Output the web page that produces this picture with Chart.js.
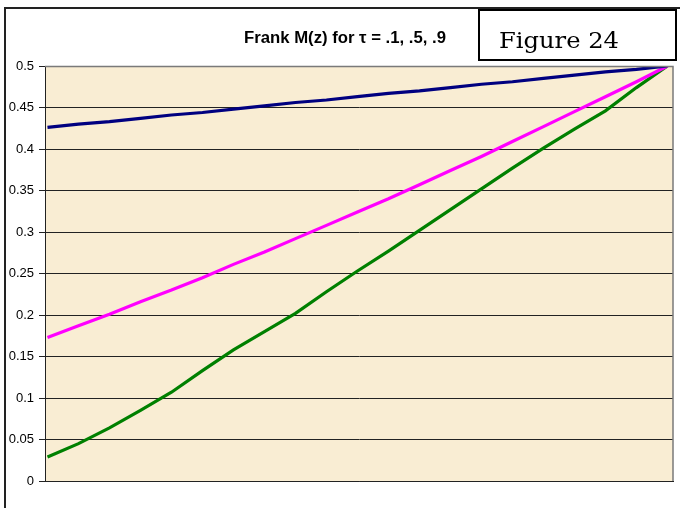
<!DOCTYPE html>
<html>
<head>
<meta charset="utf-8">
<script src="https://cdn.jsdelivr.net/npm/chart.js@4/dist/chart.umd.min.js"></script>
<style>
html,body{margin:0;padding:0;background:#fff;}
canvas{display:block;}
</style>
</head>
<body>
<canvas id="c" width="680" height="508"></canvas>
<script>
// ---- data ----
const zValues = [0,0.05,0.1,0.15,0.2,0.25,0.3,0.35,0.4,0.45,0.5,0.55,0.6,0.65,0.7,0.75,0.8,0.85,0.9,0.95,1];
const seriesTau01 = [0.426,0.430,0.433,0.437,0.441,0.444,0.448,0.452,0.456,0.459,0.463,0.467,0.470,0.474,0.478,0.481,0.485,0.489,0.493,0.496,0.500];
const seriesTau05 = [0.173,0.187,0.201,0.216,0.230,0.245,0.261,0.276,0.292,0.308,0.324,0.340,0.357,0.374,0.391,0.409,0.427,0.445,0.463,0.481,0.500];
const seriesTau09 = [0.029,0.045,0.064,0.085,0.107,0.133,0.158,0.180,0.202,0.228,0.253,0.277,0.302,0.327,0.352,0.377,0.401,0.424,0.446,0.474,0.500];
const seriesNames = ['tau = .1','tau = .5','tau = .9'];
const yTickValues = [0,0.05,0.1,0.15,0.2,0.25,0.3,0.35,0.4,0.45,0.5];
const yTickLabels = ['0','0.05','0.1','0.15','0.2','0.25','0.3','0.35','0.4','0.45','0.5'];
const titleText = 'Frank M(z) for \u03C4 = .1, .5, .9';
const figureLabel = 'Figure 24';

function pts(ys){ return zValues.map((z,i)=>({x:z, y:ys[i]})); }

const decor = {
  id:'decor',
  beforeDraw(chart){
    const {ctx, chartArea:a} = chart;
    ctx.save();
    ctx.fillStyle = '#ffffff';
    ctx.fillRect(0,0,chart.width,chart.height);
    // outer chart border (extends past the picture)
    ctx.strokeStyle = '#222';
    ctx.lineWidth = 2;
    ctx.strokeRect(5, 8, 800, 600);
    // plot background
    ctx.fillStyle = '#F9EDD3';
    ctx.fillRect(a.left, a.top, a.right - a.left, a.bottom - a.top);
    ctx.restore();
  },
  afterDraw(chart){
    const {ctx, chartArea:a} = chart;
    ctx.save();
    // plot border top/right in grey
    ctx.strokeStyle = '#7a7a7a';
    ctx.lineWidth = 1.5;
    ctx.beginPath();
    ctx.moveTo(a.left, a.top + 0.5);
    ctx.lineTo(a.right, a.top + 0.5);
    ctx.lineTo(a.right, a.bottom);
    ctx.stroke();
    // title
    ctx.fillStyle = '#000';
    ctx.font = 'bold 16px "Liberation Sans", Arial, sans-serif';
    let w = ctx.measureText(titleText).width;
    let sx = 202 / w;
    ctx.save();
    ctx.translate(244, 43);
    ctx.scale(sx, 1);
    ctx.textBaseline = 'alphabetic';
    ctx.fillText(titleText, 0, 0);
    ctx.restore();
    // figure box
    ctx.fillStyle = '#fff';
    ctx.fillRect(478, 9, 199, 52);
    ctx.strokeStyle = '#000';
    ctx.lineWidth = 2;
    ctx.strokeRect(479, 10, 197, 50);
    ctx.fillStyle = '#000';
    ctx.font = '23px "DejaVu Serif", "Liberation Serif", serif';
    w = ctx.measureText(figureLabel).width;
    sx = 120 / w;
    ctx.save();
    ctx.translate(499, 47.5);
    ctx.scale(sx, 1);
    ctx.fillText(figureLabel, 0, 0);
    ctx.restore();
    ctx.restore();
  }
};

new Chart(document.getElementById('c'), {
  type: 'line',
  data: {
    datasets: [
      {label: seriesNames[0], data: pts(seriesTau01), borderColor:'#000080', backgroundColor:'#000080', borderWidth:3.2, pointRadius:0, tension:0, fill:false},
      {label: seriesNames[1], data: pts(seriesTau05), borderColor:'#FF00FF', backgroundColor:'#FF00FF', borderWidth:3.2, pointRadius:0, tension:0, fill:false},
      {label: seriesNames[2], data: pts(seriesTau09), borderColor:'#008000', backgroundColor:'#008000', borderWidth:3.2, pointRadius:0, tension:0, fill:false}
    ]
  },
  options: {
    responsive:false,
    animation:false,
    devicePixelRatio:1,
    layout:{padding:{left:0, top:66, right:7, bottom:27}},
    plugins:{legend:{display:false}, title:{display:false}, tooltip:{enabled:false}},
    scales:{
      x:{
        type:'linear', min:-0.004, max:1.009,
        ticks:{display:false},
        grid:{display:false, drawTicks:false},
        border:{display:true, color:'#222', width:1},
        afterFit(s){ s.height = 0; }
      },
      y:{
        min:0, max:0.5,
        afterBuildTicks(s){ s.ticks = yTickValues.map(v=>({value:v})); },
        ticks:{
          color:'#000', padding:5,
          font:{family:'"Liberation Sans", Arial, sans-serif', size:13},
          callback(v){ const i = yTickValues.findIndex(t=>Math.abs(t-v)<1e-9); return i>=0 ? yTickLabels[i] : ''; }
        },
        grid:{color:'#222', lineWidth:1, drawTicks:true, tickLength:6, tickColor:'#222'},
        border:{display:true, color:'#222', width:1},
        afterFit(s){ s.width = 45; }
      }
    }
  },
  plugins:[decor]
});
</script>
</body>
</html>
